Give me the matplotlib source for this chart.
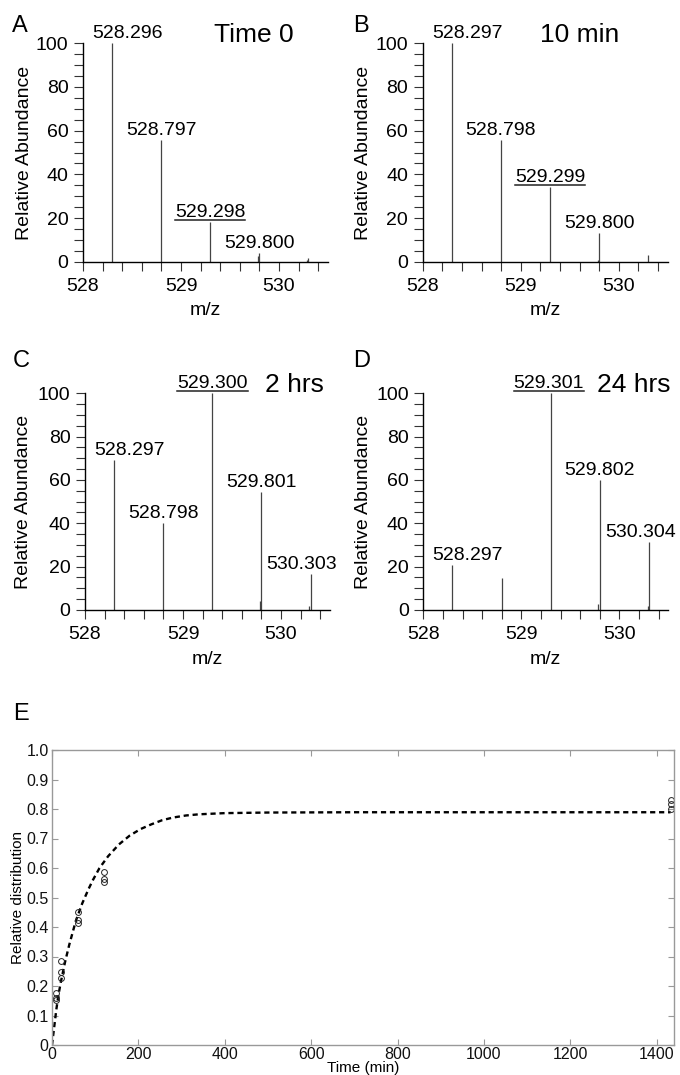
import matplotlib
matplotlib.use('Agg')
import matplotlib.pyplot as plt
from matplotlib.lines import Line2D
from matplotlib.transforms import IdentityTransform

plt.rcParams['font.family'] = ['Liberation Sans', 'DejaVu Sans']

# --- spectra (m/z, relative abundance, peak label) ---
mz_a = [528.296, 528.797, 529.298, 529.785, 529.800, 530.290, 530.300]
ab_a = [100, 55.5, 18, 2.5, 4.0, 0.8, 1.5]
lab_a = ['528.296', '528.797', '529.298', None, '529.800', None, None]

mz_b = [528.297, 528.798, 529.299, 529.785, 529.800, 530.300]
ab_b = [100, 55.5, 34, 1.0, 13, 3.2]
lab_b = ['528.297', '528.798', '529.299', None, '529.800', None]

mz_c = [528.297, 528.798, 529.300, 529.785, 529.801, 530.290, 530.303]
ab_c = [69, 40.3, 100, 4.3, 54.5, 1.8, 16.5]
lab_c = ['528.297', '528.798', '529.300', None, '529.801', None, '530.303']

mz_d = [528.297, 528.798, 529.301, 529.785, 529.802, 530.290, 530.304]
ab_d = [20.8, 14.6, 100, 2.8, 60, 1.8, 31.5]
lab_d = ['528.297', None, '529.301', None, '529.802', None, '530.304']

titles = ['Time 0', '10 min', '2 hrs', '24 hrs']
underlined = ['529.298', '529.299', '529.300', '529.301']

# --- panel E: time course ---
time_pts = [10, 10, 10, 20, 20, 20, 60, 60, 60, 120, 120, 120, 1432, 1432, 1432]
dist_pts = [0.175, 0.160, 0.153, 0.284, 0.247, 0.228, 0.452, 0.425, 0.412,
            0.585, 0.562, 0.553, 0.830, 0.817, 0.800]
fit_t = [0, 5, 10, 15, 20, 30, 40, 55, 70, 85, 95, 110, 130, 155, 180, 205,
         230, 255, 280, 310, 340, 400, 500, 700, 1432]
fit_v = [0.0, 0.06, 0.12, 0.17, 0.21, 0.28, 0.34, 0.42, 0.48, 0.53, 0.56, 0.60,
         0.64, 0.68, 0.71, 0.732, 0.748, 0.762, 0.771, 0.778, 0.782, 0.786,
         0.788, 0.789, 0.789]

W, H = 680, 1075
fig = plt.figure(figsize=(W / 100, H / 100), dpi=100)


def px_axes(left, top, right, bottom):
    return fig.add_axes([left / W, 1 - bottom / H, (right - left) / W, (bottom - top) / H])


def ftext(x, y, s, **kw):
    return fig.text(x / W, 1 - y / H, s, **kw)


panels = [
    # axes box px, data, label x-offsets (px), title x, letter pos, ylabel x
    ((83, 43.3, 328, 261.7), mz_a, ab_a, lab_a, [15, 0, 0, 0, 0, 0, 0], 529.34, 'A', (12, 32), 25),
    ((422.7, 43.3, 667.7, 261.7), mz_b, ab_b, lab_b, [16, 0, 0, 0, 0, 0], 529.20, 'B', (353, 32), 364),
    ((85, 393.3, 330, 610), mz_c, ab_c, lab_c, [15, 0, 0, 0, 0, 0, -9], 529.84, 'C', (13, 367), 24),
    ((423.3, 393.3, 668.3, 610), mz_d, ab_d, lab_d, [15, 0, -2, 0, 0, 0, -8], 529.775, 'D', (353, 367), 364),
]

underline_jobs = []
for i, (box, mz, ab, labs, dxs, tx, letter, lpos, ylx) in enumerate(panels):
    ax = px_axes(*box)
    ax.vlines(mz, 0, ab, color='#444444', lw=0.9)
    ax.set_xlim(528, 530.5)
    ax.set_ylim(0, 100)
    for s in ['top', 'right']:
        ax.spines[s].set_visible(False)
    for s in ['left', 'bottom']:
        ax.spines[s].set_color('black')
        ax.spines[s].set_linewidth(1.0)
    ax.set_xticks([528, 529, 530])
    ax.set_xticks([528.2, 528.4, 528.6, 528.8, 529.2, 529.4, 529.6, 529.8, 530.2, 530.4], minor=True)
    ax.set_yticks([0, 20, 40, 60, 80, 100])
    ax.set_yticks([v for v in range(0, 101, 5) if v % 20], minor=True)
    ax.tick_params(which='both', direction='out', length=6.5, width=0.8, color='#333333')
    ax.tick_params(axis='x', labelsize=14, pad=5)
    ax.tick_params(axis='y', labelsize=14, pad=4)

    for x, y, s, dx in zip(mz, ab, labs, dxs):
        if s is None:
            continue
        t = ax.annotate(s, xy=(x, y), xytext=(dx, 5), textcoords='offset pixels',
                        ha='center', va='baseline', fontsize=14, annotation_clip=False)
        if s == underlined[i]:
            underline_jobs.append((ax, t, x, y))

    ax.annotate(titles[i], xy=(tx, 100), xytext=(0, 1), textcoords='offset pixels',
                ha='left', va='baseline', fontsize=19, annotation_clip=False)

    ftext(lpos[0], lpos[1], letter, fontsize=17, va='baseline', ha='left')
    ftext(ylx, (box[1] + box[3]) / 2, 'Relative Abundance', rotation=90,
          ha='center', va='center', fontsize=14)
    ftext((box[0] + box[2]) / 2, box[3] + 49, 'm/z', ha='center', va='center', fontsize=14)

# --- panel E ---
axe = px_axes(52, 750, 674, 1045)
axe.plot(fit_t, fit_v, color='black', lw=1.7, ls=(0, (2.2, 1.6)))
axe.plot(time_pts, dist_pts, 'o', mfc='none', mec='#222222', ms=4.2, mew=0.7, clip_on=False)
axe.set_xlim(0, 1440)
axe.set_ylim(0, 1)
axe.set_xticks(range(0, 1401, 200))
yt = [i / 10 for i in range(11)]
axe.set_yticks(yt)
axe.set_yticklabels(['0'] + ['%.1f' % v for v in yt[1:]])
for s in axe.spines.values():
    s.set_color('#999999')
    s.set_linewidth(1.0)
axe.tick_params(direction='in', length=4.3, width=0.8, color='#999999',
                top=True, right=True, labelcolor='#111111', labelsize=11.5)
axe.tick_params(axis='x', pad=1.5)
axe.tick_params(axis='y', pad=2.5)
ftext(13, 720, 'E', fontsize=17, va='baseline', ha='left')
ftext(18, 897.5, 'Relative distribution', rotation=90, ha='center', va='center',
      fontsize=11)
ftext(363, 1068, 'Time (min)', ha='center', va='center', fontsize=11)

# underlines below the major isotope labels
fig.canvas.draw()
r = fig.canvas.get_renderer()
for ax, t, x, y in underline_jobs:
    bb = t.get_window_extent(r)
    base = ax.transData.transform((x, y))[1] + 5
    fig.add_artist(Line2D([bb.x0, bb.x1], [base - 3, base - 3], color='#222222',
                          lw=1.1, transform=IdentityTransform()))

fig.savefig('out.png', dpi=100)
